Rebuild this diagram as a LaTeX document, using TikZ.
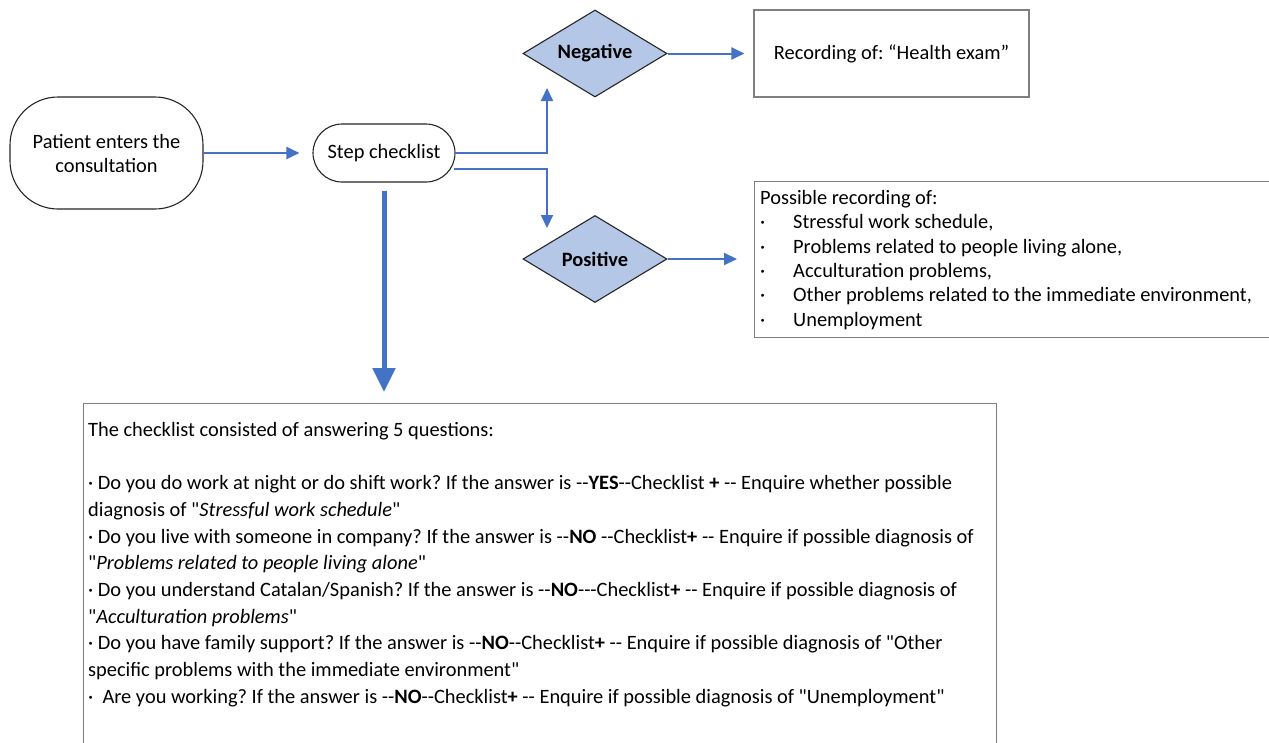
\documentclass[tikz,border=0pt]{standalone}
\usepackage{fontspec}
\setmainfont{Carlito}[Ligatures=TeXOff]
\usetikzlibrary{arrows.meta,calc,shapes.geometric}
\definecolor{flowblue}{HTML}{4472C4}
\definecolor{diafill}{HTML}{B4C7E7}
\definecolor{boxgray}{HTML}{7F7F7F}
\frenchspacing

\begin{document}
\begin{tikzpicture}[x=1pt,y=-1pt,
  font=\fontsize{20.4}{24}\selectfont,
  link/.style={draw=flowblue,line width=2pt,-{Triangle[length=13pt,width=12pt]}},
  bigarrow/.style={draw=flowblue,line width=5pt,-{Triangle[length=24pt,width=22pt]}},
  stadium/.style={draw=black!85,line width=1.1pt,fill=white,align=center},
  decision/.style={diamond,aspect=1.66,draw=black!85,line width=1.1pt,fill=diafill,inner sep=0pt,
    minimum width=144pt,minimum height=87pt,font=\fontsize{20.4}{24}\selectfont\bfseries},
  outbox/.style={draw=boxgray,line width=1.1pt,anchor=north west,inner sep=0pt}]
  \useasboundingbox (0,0) rectangle (1269,742);
  \clip (0,0) rectangle (1269,742);
  % start and step
  \node[stadium,rounded corners=48pt,minimum width=193pt,minimum height=112pt] (patient) at (106.5,153) {Patient enters the\\consultation};
  \node[stadium,rounded corners=29pt,minimum width=142pt,minimum height=58pt] (step) at (384,153) {Step checklist};
  % decisions
  \node[decision] (neg) at (595,53.5) {Negative};
  \node[decision] (pos) at (595,259) {Positive};
  % outcome boxes
  \node[draw=boxgray,line width=1.1pt,minimum width=275pt,minimum height=87pt] (health) at (891.5,53.5) {Recording of: “Health exam”};
  \node[outbox,minimum width=520pt,minimum height=156pt] (possbox) at (754,181) {};
  \node[anchor=north west,align=left,inner sep=0pt,font=\fontsize{20.4}{24.4}\selectfont] (posstxt) at (760,190)
    {Possible recording of:\\
     \makebox[33pt][l]{·}Stressful work schedule,\\
     \makebox[33pt][l]{·}Problems related to people living alone,\\
     \makebox[33pt][l]{·}Acculturation problems,\\
     \makebox[33pt][l]{·}Other problems related to the immediate environment,\\
     \makebox[33pt][l]{·}Unemployment};
  % checklist box
  \node[outbox,minimum width=913pt,minimum height=360pt] (listbox) at (83,403) {};
  \node[anchor=north west,align=left,inner sep=0pt,font=\fontsize{20.4}{26.7}\selectfont] (listtxt) at (88,422)
    {The checklist consisted of answering 5 questions:\\[26.7pt]
     · Do you do work at night or do shift work? If the answer is --\textbf{YES}--Checklist \textbf{+} -- Enquire whether possible\\
     diagnosis of "\textit{Stressful work schedule}"\\
     · Do you live with someone in company? If the answer is --\textbf{NO} --Checklist\textbf{+} -- Enquire if possible diagnosis of\\
     "\textit{Problems related to people living alone}"\\
     · Do you understand Catalan/Spanish? If the answer is --\textbf{NO}---Checklist\textbf{+} -- Enquire if possible diagnosis of\\
     "\textit{Acculturation problems}"\\
     · Do you have family support? If the answer is --\textbf{NO}--Checklist\textbf{+} -- Enquire if possible diagnosis of "Other\\
     specific problems with the immediate environment"\\
     ·\ \ Are you working? If the answer is --\textbf{NO}--Checklist\textbf{+} -- Enquire if possible diagnosis of "Unemployment"};
  % connectors
  \coordinate (negin) at (547,88);
  \coordinate (posin) at (547,228);
  \draw[link,shorten >=13pt] (patient.east) -- (step.west);
  \draw[link] (step.east) -| (negin);
  \draw[link] ($(step.east)+(-2,16)$) -| (posin);
  \draw[link,shorten >=9pt] (neg.east) -- (health.west);
  \draw[link,shorten >=17pt] (pos.east) -- (possbox.west |- pos.east);
  \draw[bigarrow,shorten <=8pt,shorten >=11pt] (step.south) -- (step.south |- listbox.north);
\end{tikzpicture}
\end{document}
